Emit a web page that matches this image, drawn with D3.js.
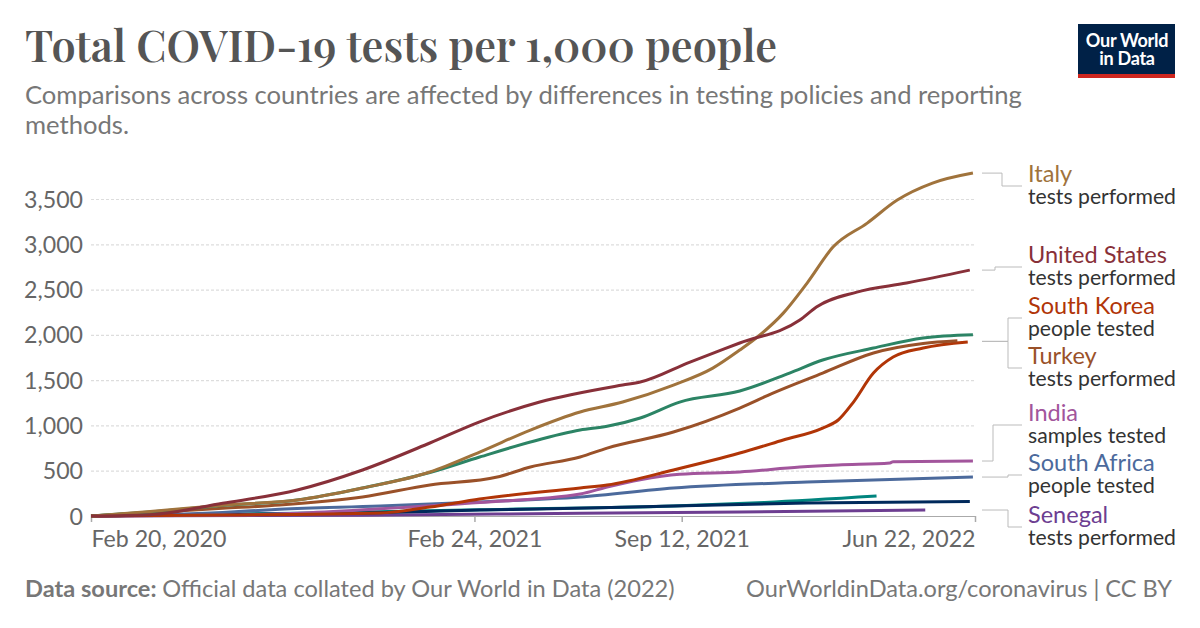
<!DOCTYPE html>
<html><head><meta charset="utf-8">
<script src="https://cdn.jsdelivr.net/npm/d3@7"></script>
<style>
html,body{margin:0;padding:0;background:#fff;}
svg{display:block;font-family:Lato,"Noto Sans",sans-serif;}
</style></head>
<body>
<svg id="chart" width="1200" height="628"></svg>
<script>
// ---------- DATA ----------
const yTicks = [0, 500, 1000, 1500, 2000, 2500, 3000, 3500];
const xTickDates = ["2020-02-20", "2021-02-24", "2021-09-12", "2022-06-22"];

const unitedStates = [["2020-02-20",0],["2020-04-17",15],["2020-06-26",140],["2020-09-06",287],["2020-11-08",508],["2021-01-12",806],["2021-03-01",1040],["2021-04-28",1258],["2021-07-17",1446],["2021-08-03",1479],["2021-09-20",1700],["2021-11-07",1910],["2022-01-04",2163],["2022-01-20",2307],["2022-02-28",2472],["2022-04-17",2572],["2022-06-17",2715]];
const italy = [["2020-02-20",0],["2020-04-17",50],["2020-06-26",120],["2020-09-06",177],["2020-11-08",309],["2021-01-12",486],["2021-03-01",706],["2021-04-19",949],["2021-06-06",1148],["2021-07-17",1258],["2021-09-04",1446],["2021-10-12",1633],["2021-11-07",1832],["2021-11-24",1976],["2021-12-19",2240],["2022-01-11",2572],["2022-02-05",2969],["2022-03-10",3234],["2022-04-08",3488],["2022-05-12",3675],["2022-06-20",3786]];
const greenSeries = [["2020-02-20",0],["2020-04-17",45],["2020-06-26",115],["2020-09-06",177],["2020-11-08",309],["2021-01-12",480],["2021-03-01",651],["2021-04-19",817],["2021-06-06",949],["2021-07-02",990],["2021-08-03",1082],["2021-09-10",1258],["2021-11-07",1380],["2021-12-25",1578],["2022-01-26",1722],["2022-03-16",1854],["2022-05-03",1965],["2022-06-20",2000]];
const turkey = [["2020-02-20",0],["2020-04-17",40],["2020-06-26",85],["2020-08-20",121],["2020-11-08",210],["2021-01-12",342],["2021-03-18",430],["2021-04-19",541],["2021-06-06",651],["2021-07-02",750],["2021-09-04",927],["2021-11-07",1192],["2021-12-09",1357],["2022-01-26",1578],["2022-03-16",1800],["2022-05-03",1905],["2022-06-05",1935]];
const southKorea = [["2020-02-20",0],["2020-06-26",10],["2020-11-25",33],["2021-01-12",99],["2021-03-01",188],["2021-06-06",309],["2021-07-02",342],["2021-09-04",508],["2021-11-07",695],["2021-12-19",839],["2022-01-26",971],["2022-02-10",1060],["2022-02-24",1247],["2022-03-16",1578],["2022-04-04",1755],["2022-05-03",1854],["2022-06-15",1921]];
const india = [["2020-02-20",0],["2020-06-26",8],["2020-09-06",30],["2020-11-25",80],["2021-03-01",150],["2021-06-06",243],["2021-07-02",320],["2021-08-03",400],["2021-09-10",460],["2021-11-07",486],["2022-01-04",540],["2022-02-10",563],["2022-04-01",585],["2022-04-04",600],["2022-06-20",607]];
const southAfrica = [["2020-02-20",0],["2020-06-26",40],["2020-08-20",75],["2020-11-25",110],["2021-03-01",155],["2021-06-06",210],["2021-09-04",309],["2022-01-11",375],["2022-06-20",430]];
const tealSeries = [["2020-02-20",0],["2020-09-06",30],["2021-03-01",70],["2021-09-04",110],["2021-12-01",150],["2022-03-19",221]];
const navySeries = [["2020-02-20",0],["2020-09-06",25],["2020-11-08",33],["2021-03-01",66],["2021-04-28",77],["2021-09-04",110],["2022-01-11",143],["2022-06-17",160]];
const senegal = [["2020-02-20",0],["2020-11-08",8],["2021-06-06",30],["2021-11-07",44],["2022-05-05",66]];

const seriesNames = ["Teal","Senegal","Navy","South Africa","India","South Korea","Turkey","Green","Italy","United States"];
const seriesData = [tealSeries, senegal, navySeries, southAfrica, india, southKorea, turkey, greenSeries, italy, unitedStates];
const seriesColors = ["#00847E","#6D3E91","#00295B","#4C6A9C","#A2559C","#B13507","#9A5129","#2C8465","#A0733C","#883039"];

const labelNames = ["Italy","United States","South Korea","Turkey","India","South Africa","Senegal"];
const labelSubs = ["tests performed","tests performed","people tested","tests performed","samples tested","people tested","tests performed"];

// ---------- LAYOUT ----------
const plot = {left: 91, right: 975, top: 199, bottom: 516};
const labelLayout = { // label centre y and connector elbow x
  "Italy": {y:186, mx:1002}, "United States": {y:267, mx:995},
  "South Korea": {y:318, mx:1008}, "Turkey": {y:368, mx:1008},
  "India": {y:425, mx:993}, "South Africa": {y:475, mx:1008}, "Senegal": {y:527, mx:1008}
};
// font size scale so the rendered text width matches the reference
function fit(sel, target) {
  const fs = +sel.attr("font-size");
  const w = sel.node().getComputedTextLength();
  sel.attr("font-size", fs * target / w);
  return fs * target / w;
}

const svg = d3.select("#chart");
const parse = d3.timeParse("%Y-%m-%d");

const x = d3.scaleTime().domain([parse("2020-02-20"), parse("2022-06-22")]).range([plot.left, plot.right]);
const y = d3.scaleLinear().domain([0, 3500]).range([plot.bottom, plot.top]);

// Title
const title = svg.append("text").attr("x", 25).attr("y", 62)
  .attr("font-family", "'Playfair Display','DejaVu Serif','Liberation Serif',serif")
  .attr("font-weight", 600).attr("fill", "#555").attr("font-size", 40)
  .text("Total COVID-19 tests per 1,000 people");
fit(title, 752);

const sub1 = svg.append("text").attr("x", 25).attr("y", 104).attr("font-size", 22).attr("fill", "#777")
  .text("Comparisons across countries are affected by differences in testing policies and reporting");
const subFs = fit(sub1, 997);
svg.append("text").attr("x", 25).attr("y", 134).attr("font-size", subFs).attr("fill", "#777")
  .text("methods.");

// Logo
const logo = svg.append("g");
logo.append("rect").attr("x", 1078).attr("y", 24).attr("width", 97).attr("height", 54).attr("fill", "#002147");
logo.append("rect").attr("x", 1078).attr("y", 74).attr("width", 97).attr("height", 4).attr("fill", "#CE261E");
const lt1 = logo.append("text").attr("x", 1127).attr("y", 47).attr("text-anchor", "middle").attr("fill", "#fff")
  .attr("font-size", 16).attr("font-weight", 700).attr("letter-spacing", -0.3).text("Our World");
const logoFs = fit(lt1, 82);
logo.append("text").attr("x", 1127).attr("y", 65).attr("text-anchor", "middle").attr("fill", "#fff")
  .attr("font-size", logoFs).attr("font-weight", 700).attr("letter-spacing", -0.3).text("in Data");

// Y axis with grid
const yAxis = svg.append("g").attr("transform", `translate(${plot.left},0)`)
  .call(d3.axisLeft(y).tickValues(yTicks).tickFormat(d3.format(",")).tickSize(-(plot.right - plot.left)).tickPadding(8));
yAxis.select(".domain").remove();
yAxis.selectAll(".tick line").attr("stroke", "#ddd").attr("stroke-width", 1.2).attr("stroke-dasharray", "3,2")
  .filter(d => d === 0).remove();
const yt = yAxis.selectAll(".tick text").attr("font-size", 21).attr("fill", "#666").attr("font-family", "Lato,sans-serif").attr("dy", "0.35em");
const yFs = fit(yt.filter(d => d === 3500), 59);
yt.attr("font-size", yFs);

// X axis
const xAxis = svg.append("g").attr("transform", `translate(0,${plot.bottom})`)
  .call(d3.axisBottom(x).tickValues(xTickDates.map(parse)).tickFormat(d3.timeFormat("%b %-d, %Y")).tickSize(6).tickPadding(9));
xAxis.select(".domain").attr("stroke", "#aaa").attr("stroke-width", 1);
xAxis.selectAll(".tick line").attr("stroke", "#aaa").attr("stroke-width", 1.5);
const xt = xAxis.selectAll(".tick text").attr("font-size", 20).attr("fill", "#666").attr("font-family", "Lato,sans-serif");
const xFs = fit(xt.filter((d, i) => i === 0), 135);
xt.attr("font-size", xFs);
xt.filter((d, i) => i === 0).attr("text-anchor", "start");
xt.filter((d, i, n) => i === n.length - 1).attr("text-anchor", "end");

// Lines
const line = d3.line().x(d => x(parse(d[0]))).y(d => y(d[1])).curve(d3.curveMonotoneX);
svg.append("g").selectAll("path").data(seriesData).join("path")
  .attr("d", line).attr("fill", "none")
  .attr("stroke", (d, i) => seriesColors[i]).attr("stroke-width", 3)
  .attr("stroke-linejoin", "round").attr("stroke-linecap", "butt");

// Labels with connectors
const lg = svg.append("g");
const probeName = lg.append("text").attr("font-size", 21).text("United States");
const nameFs = fit(probeName, 139); probeName.remove();
const probeSub = lg.append("text").attr("font-size", 19).text("tests performed");
const subLabFs = fit(probeSub, 148); probeSub.remove();
labelNames.forEach((name, i) => {
  const si = seriesNames.indexOf(name);
  const data = seriesData[si];
  let endY = y(data[data.length - 1][1]);
  if (name === "South Korea" || name === "Turkey") {
    const a = southKorea[southKorea.length - 1][1], b = turkey[turkey.length - 1][1];
    endY = y((a + b) / 2);
  }
  const L = labelLayout[name];
  lg.append("path").attr("fill", "none").attr("stroke", "#bbb").attr("stroke-width", 1)
    .attr("d", `M${plot.right + 7},${endY}H${L.mx}V${L.y}H1022`);
  lg.append("text").attr("x", 1028).attr("y", L.y - 4).attr("font-size", nameFs).attr("fill", seriesColors[si]).text(name);
  lg.append("text").attr("x", 1028).attr("y", L.y + 18).attr("font-size", subLabFs).attr("fill", "#333").text(labelSubs[i]);
});

// Footer
const f = svg.append("text").attr("x", 25).attr("y", 597).attr("font-size", 18.5).attr("fill", "#777");
f.append("tspan").attr("font-weight", 700).text("Data source: ");
f.append("tspan").text("Official data collated by Our World in Data (2022)");
fit(f, 650);
const fr = svg.append("text").attr("x", 1172).attr("y", 597).attr("text-anchor", "end").attr("font-size", 18.5).attr("fill", "#777")
  .text("OurWorldinData.org/coronavirus | CC BY");
fit(fr, 426);
</script>
</body></html>
